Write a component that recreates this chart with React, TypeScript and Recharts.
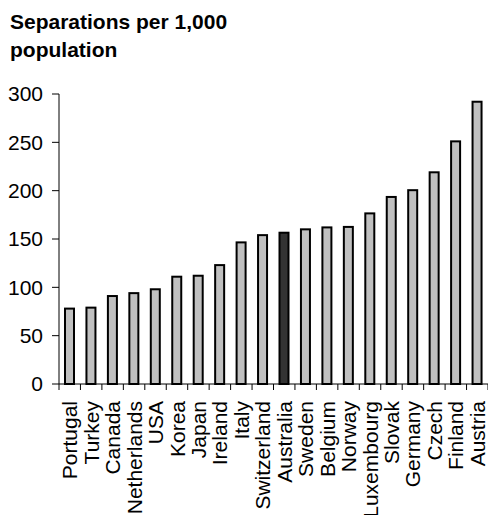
import React from 'react';
import { BarChart, Bar, XAxis, YAxis } from 'recharts';

// separations per 1,000 population, sorted low to high
const countries = [
  'Portugal', 'Turkey', 'Canada', 'Netherlands', 'USA', 'Korea', 'Japan', 'Ireland', 'Italy', 'Switzerland',
  'Australia', 'Sweden', 'Belgium', 'Norway', 'Luxembourg', 'Slovak', 'Germany', 'Czech', 'Finland', 'Austria',
];
const separations = [78, 79, 91, 94, 98, 111, 112, 123, 146.5, 154, 156.5, 160, 162, 162.5, 176.5, 193.5, 200.5, 219, 251, 292];
const yTicks = [0, 50, 100, 150, 200, 250, 300];
const highlight = 'Australia';

const font = '"Liberation Sans", Arial, sans-serif';

const rows = countries.map((c, i) => ({ country: c, value: separations[i] }));

const W = 488;
const H = 515;
const LEFT = 59;
const BAND = (W - LEFT) / countries.length;

function CountryTick(props: any) {
  const { x, y, payload, index } = props;
  const isLast = index === countries.length - 1;
  return (
    <g>
      <line x1={x - BAND / 2} x2={x - BAND / 2} y1={y} y2={y + 6} stroke="#000" />
      {isLast && <line x1={x + BAND / 2} x2={x + BAND / 2} y1={y} y2={y + 6} stroke="#000" />}
      <text
        transform={`translate(${x},${y + 17}) rotate(-90)`}
        textAnchor="end"
        dy="0.36em"
        fontSize={21}
        fontFamily={font}
        fill="#000"
      >
        {payload.value}
      </text>
    </g>
  );
}

// bar with a black outline; Australia drawn dark
function OutlinedBar(props: any) {
  const { x, y, width, height, payload } = props;
  const dark = payload && payload.country === highlight;
  return (
    <rect
      x={x}
      y={y}
      width={width}
      height={height}
      fill={dark ? '#333333' : '#c0c0c0'}
      stroke="#000"
      strokeWidth={2}
    />
  );
}

export default function App() {
  return (
    <div style={{ position: 'absolute', left: 0, top: 0, width: W, height: H, background: '#fff', overflow: 'hidden' }}>
      <div
        style={{
          position: 'absolute', left: 10, top: 8, fontFamily: font, fontWeight: 'bold',
          fontSize: 21, lineHeight: '28px', color: '#000',
        }}
      >
        Separations per 1,000
        <br />
        population
      </div>
      <BarChart
        width={W}
        height={H}
        data={rows}
        margin={{ top: 94, right: 0, bottom: 0, left: 0 }}
        barSize={9}
      >
        <XAxis
          dataKey="country"
          interval={0}
          height={131}
          axisLine={{ stroke: '#000' }}
          tickLine={false}
          tickSize={0}
          tickMargin={0}
          tick={<CountryTick />}
        />
        <YAxis
          width={LEFT}
          domain={[0, 300]}
          ticks={yTicks}
          interval={0}
          axisLine={{ stroke: '#000' }}
          tickLine={{ stroke: '#000' }}
          tickSize={7}
          tickMargin={9}
          tick={{ fill: '#000', fontSize: 21, fontFamily: font }}
        />
        <Bar dataKey="value" fill="#c0c0c0" shape={<OutlinedBar />} activeBar={false} isAnimationActive={false} />
      </BarChart>
    </div>
  );
}
